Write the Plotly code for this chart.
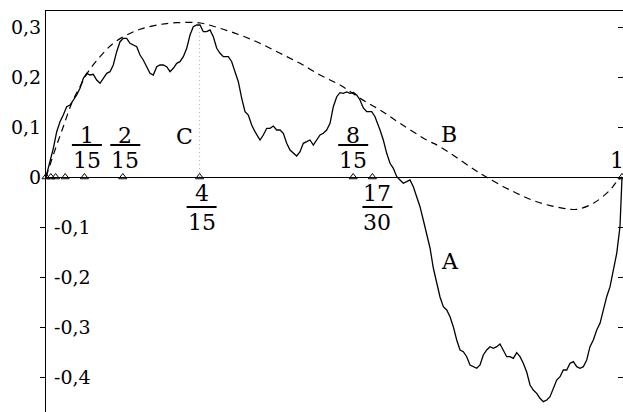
import plotly.graph_objects as go

# curve A (rough curve)
a_x = [0, 0.0069, 0.0127, 0.0186, 0.0243, 0.0300, 0.0359, 0.0417, 0.0474, 0.0533,
       0.0590, 0.0648, 0.0707, 0.0764, 0.0821, 0.0880, 0.0938, 0.0995, 0.1054, 0.1111,
       0.1168, 0.1227, 0.1285, 0.1342, 0.1401, 0.1458, 0.1516, 0.1575, 0.1632, 0.1689,
       0.1748, 0.1806, 0.1863, 0.1922, 0.1979, 0.2036, 0.2095, 0.2153, 0.2210, 0.2269,
       0.2326, 0.2384, 0.2443, 0.2500, 0.2557, 0.2616, 0.2674, 0.2731, 0.2790, 0.2847,
       0.2905, 0.2964, 0.3021, 0.3078, 0.3165, 0.3224, 0.3281, 0.3339, 0.3398, 0.3455,
       0.3512, 0.3571, 0.3628, 0.3715, 0.3773, 0.3832, 0.3889, 0.3946, 0.4005, 0.4063,
       0.4120, 0.4179, 0.4236, 0.4293, 0.4352, 0.4410, 0.4467, 0.4526, 0.4583, 0.4641,
       0.4700, 0.4757, 0.4814, 0.4873, 0.4931, 0.4988, 0.5047, 0.5104, 0.5161, 0.5220,
       0.5278, 0.5335, 0.5394, 0.5451, 0.5509, 0.5568, 0.5655, 0.5712, 0.5799, 0.5856,
       0.5915, 0.5972, 0.6030, 0.6089, 0.6146, 0.6203, 0.6262, 0.6319, 0.6377, 0.6436,
       0.6493, 0.6550, 0.6609, 0.6667, 0.6724, 0.6783, 0.6840, 0.6898, 0.6957, 0.7014,
       0.7071, 0.7130, 0.7188, 0.7245, 0.7304, 0.7361, 0.7418, 0.7477, 0.7535, 0.7592,
       0.7651, 0.7708, 0.7766, 0.7825, 0.7882, 0.7939, 0.7998, 0.8056, 0.8113, 0.8172,
       0.8229, 0.8286, 0.8345, 0.8403, 0.8460, 0.8519, 0.8576, 0.8634, 0.8693, 0.8750,
       0.8807, 0.8866, 0.8924, 0.8981, 0.9040, 0.9097, 0.9155, 0.9214, 0.9271, 0.9328,
       0.9387, 0.9444, 0.9502, 0.9561, 0.9618, 0.9675, 0.9734, 0.9792, 0.9849, 0.9908,
       0.9965, 0.9983, 1.0]
a_y = [0, 0.0306, 0.0574, 0.0906, 0.1106, 0.124, 0.1406, 0.144, 0.154, 0.164,
       0.1774, 0.1974, 0.2074, 0.204, 0.2054, 0.194, 0.1874, 0.1974, 0.2074, 0.2106,
       0.224, 0.2506, 0.2706, 0.2774, 0.2774, 0.2674, 0.264, 0.2606, 0.244, 0.234,
       0.2206, 0.2074, 0.204, 0.2206, 0.224, 0.224, 0.2206, 0.2106, 0.2174, 0.2274,
       0.2306, 0.2406, 0.2574, 0.284, 0.3006, 0.304, 0.304, 0.2906, 0.2906, 0.294,
       0.2806, 0.2574, 0.2474, 0.2406, 0.2406, 0.2306, 0.2106, 0.1906, 0.1574, 0.1306,
       0.124, 0.104, 0.0906, 0.074, 0.084, 0.0974, 0.0974, 0.102, 0.094, 0.094,
       0.0874, 0.0674, 0.054, 0.0474, 0.042, 0.0506, 0.0674, 0.0706, 0.074, 0.064,
       0.074, 0.084, 0.0874, 0.094, 0.1074, 0.1406, 0.1606, 0.1686, 0.1674, 0.1700,
       0.1674, 0.1690, 0.164, 0.154, 0.138, 0.1306, 0.1306, 0.1206, 0.094, 0.074,
       0.0474, 0.0274, 0.0174, 0.0006, -0.006, -0.0126, -0.0094, -0.006, -0.0194, -0.0394,
       -0.0594, -0.086, -0.1126, -0.142, -0.182, -0.21, -0.24, -0.2594, -0.266, -0.2794,
       -0.2994, -0.326, -0.346, -0.3494, -0.3594, -0.376, -0.3794, -0.3826, -0.376, -0.356,
       -0.346, -0.3394, -0.3426, -0.3394, -0.334, -0.346, -0.3594, -0.3594, -0.3626, -0.3514,
       -0.3594, -0.3726, -0.39, -0.416, -0.426, -0.4326, -0.4426, -0.4494, -0.446, -0.4394,
       -0.4226, -0.406, -0.3994, -0.386, -0.386, -0.3726, -0.3694, -0.3794, -0.3826, -0.3794,
       -0.366, -0.3394, -0.326, -0.306, -0.2926, -0.266, -0.2394, -0.2194, -0.186, -0.1526,
       -0.0994, -0.046, 0]

# curve B (smooth dashed curve)
b_x = [0, 0.0156, 0.0300, 0.0446, 0.0590, 0.0734, 0.0938, 0.1168, 0.1401, 0.1632,
       0.1922, 0.2269, 0.2674, 0.3021, 0.3368, 0.3715, 0.4063, 0.4410, 0.4757, 0.5104,
       0.5451, 0.5799, 0.6146, 0.6609, 0.6840, 0.7361, 0.7651, 0.8056, 0.8519, 0.8981,
       0.9214, 0.9502, 0.9792, 0.9908, 1.0]
b_y = [0, 0.054, 0.1006, 0.1474, 0.1806, 0.2106, 0.2406, 0.2674, 0.284, 0.2954,
       0.304, 0.3086, 0.308, 0.2974, 0.284, 0.2674, 0.2474, 0.2274, 0.204, 0.184,
       0.1574, 0.134, 0.1074, 0.074, 0.0606, 0.0206, -0.0006, -0.026, -0.0494, -0.0626,
       -0.0646, -0.0526, -0.026, -0.0094, 0]

# marked points on the axis
mark_x = [0, 1/120, 1/60, 1/30, 1/15, 2/15, 4/15, 8/15, 17/30, 1]

# fraction labels
frac_x = [1/15, 2/15, 4/15, 8/15, 17/30]
frac_num = ["1", "2", "4", "8", "17"]
frac_den = ["15", "15", "15", "15", "30"]
frac_above = [True, True, False, True, False]

# point C
c_x = 4/15
c_y = 0.304

y_pos_ticks = [0, 0.1, 0.2, 0.3]
y_pos_text = ["0", "0,1", "0,2", "0,3"]
y_neg_ticks = [-0.1, -0.2, -0.3, -0.4]
y_neg_text = ["-0,1", "-0,2", "-0,3", "-0,4"]

FONT = "DejaVu Serif"
tickfont = dict(family=FONT, size=19, color="black")

fig = go.Figure()
# dotted line for C (on y2 so that axis gets drawn)
fig.add_trace(go.Scatter(x=[c_x, c_x], y=[0, c_y], mode="lines", yaxis="y2",
                         line=dict(color="#aaaaaa", width=1, dash="1px,3px")))
fig.add_trace(go.Scatter(x=b_x, y=b_y, mode="lines", line_shape="spline",
                         line=dict(color="black", width=1.2, dash="7px,5px")))
fig.add_trace(go.Scatter(x=a_x, y=a_y, mode="lines",
                         line=dict(color="black", width=1.3)))
fig.add_trace(go.Scatter(x=mark_x, y=[0] * len(mark_x), mode="markers", yaxis="y3",
                         marker=dict(symbol="triangle-up-open", size=7, color="black",
                                     line=dict(width=1, color="black")),
                         cliponaxis=False))

# fractions: numerator, bar, denominator
frac_dx = [2.5, 2.5, 2, 0, 5]
for fx, num, den, above, dx in zip(frac_x, frac_num, frac_den, frac_above, frac_dx):
    if above:
        num_shift, bar_shift, den_shift = 42, 32, 17
    else:
        num_shift, bar_shift, den_shift = -16, -30, -45
    fig.add_annotation(x=fx, y=0, text=num, showarrow=False, xshift=dx, yshift=num_shift,
                       font=dict(family=FONT, size=22, color="black"))
    fig.add_annotation(x=fx, y=0, text=den, showarrow=False, xshift=dx, yshift=den_shift,
                       font=dict(family=FONT, size=22, color="black"))
    fig.add_shape(type="line", xref="x", yref="y", xsizemode="pixel", ysizemode="pixel",
                  xanchor=fx, yanchor=0, x0=dx - 15, x1=dx + 15, y0=bar_shift, y1=bar_shift,
                  line=dict(color="black", width=2))

for txt, lx, ly in [("C", 0.2396, 0.082), ("B", 0.6997, 0.085), ("A", 0.7014, -0.168),
                    ("1", 0.9913, 0.034)]:
    fig.add_annotation(x=lx, y=ly, text=txt, showarrow=False,
                       font=dict(family=FONT, size=22, color="black"))

yr = [-0.47, 0.332]
fig.update_layout(
    width=623, height=412,
    margin=dict(l=46, r=0, t=11, b=0),
    paper_bgcolor="white", plot_bgcolor="white",
    showlegend=False,
    font=dict(family=FONT, size=19, color="black"),
    xaxis=dict(range=[0, 1.0017], side="top", showline=True, linecolor="black", linewidth=1,
               showgrid=False, zeroline=False, showticklabels=False, ticks=""),
    yaxis=dict(range=yr, showline=True, linecolor="black", linewidth=1, showgrid=False,
               zeroline=True, zerolinecolor="black", zerolinewidth=1,
               tickvals=y_pos_ticks, ticktext=y_pos_text, ticks="", ticklabelstandoff=0,
               tickfont=tickfont),
    yaxis2=dict(range=yr, overlaying="y", anchor="x", side="left", showline=False,
                showgrid=False, zeroline=False, tickvals=y_neg_ticks, ticktext=y_neg_text,
                ticks="outside", ticklen=5, tickcolor="black", tickfont=tickfont,
                ticklabelposition="inside", ticklabelstandoff=5),
    yaxis3=dict(range=yr, overlaying="y", anchor="x", side="right", showline=False,
                showgrid=False, zeroline=False, tickvals=y_pos_ticks + y_neg_ticks,
                showticklabels=False, ticks="inside", ticklen=5, tickcolor="black",
                tickwidth=1),
)

fig.write_html("out.html", config={"displayModeBar": False},
               post_script="document.body.style.margin='0';document.body.style.overflow='hidden';")
